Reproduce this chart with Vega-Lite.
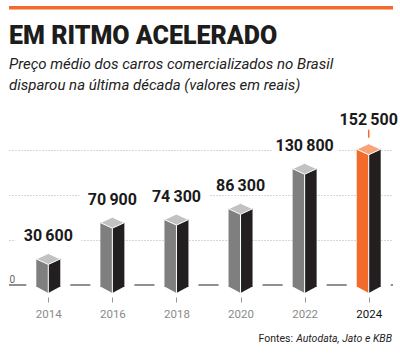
{
  "$schema": "https://vega.github.io/schema/vega-lite/v6.json",
  "background": "white",
  "padding": {"left": 8, "right": 8, "top": 6, "bottom": 0},
  "autosize": {"type": "pad"},
  "spacing": 14,
  "config": {"view": {"stroke": null}, "font": "Roboto"},
  "datasets": {
    "precos": [
      {"ano": "2014", "valor": 30600, "rotulo": "30\u2009600", "destaque": "não"},
      {"ano": "2016", "valor": 70900, "rotulo": "70\u2009900", "destaque": "não"},
      {"ano": "2018", "valor": 74300, "rotulo": "74\u2009300", "destaque": "não"},
      {"ano": "2020", "valor": 86300, "rotulo": "86\u2009300", "destaque": "não"},
      {"ano": "2022", "valor": 130800, "rotulo": "130\u2009800", "destaque": "não"},
      {"ano": "2024", "valor": 152500, "rotulo": "152\u2009500", "destaque": "sim"}
    ],
    "faixa": [{"inicio": 0, "fim": 1}],
    "fonte": [{"prefixo": "Fontes:", "nomes": "Autodata, Jato e KBB"}]
  },
  "vconcat": [
    {
      "width": 384,
      "height": 3.5,
      "data": {"name": "faixa"},
      "mark": {"type": "rect", "color": "#F26B2A"},
      "encoding": {
        "x": {"field": "inicio", "type": "quantitative", "axis": null, "scale": {"domain": [0, 1]}},
        "x2": {"field": "fim"},
        "y": {"field": "inicio", "type": "quantitative", "axis": null, "scale": {"domain": [0, 1]}},
        "y2": {"field": "fim"}
      }
    },
    {
      "width": 384,
      "height": 180,
      "data": {"name": "precos"},
      "title": {
        "text": "EM RITMO ACELERADO",
        "subtitle": ["Preço médio dos carros comercializados no Brasil", "disparou na última década (valores em reais)"],
        "anchor": "start",
        "frame": "group",
        "font": "Roboto",
        "fontSize": 25,
        "fontWeight": 900,
        "color": "#1d1d1b",
        "subtitleFont": "Roboto",
        "subtitleFontSize": 15,
        "subtitleFontStyle": "italic",
        "subtitleColor": "#222222",
        "subtitleLineHeight": 21,
        "subtitlePadding": 8,
        "offset": 12
      },
      "layer": [
        {
          "data": {"name": "faixa"},
          "mark": {"type": "rule", "color": "#222222", "strokeWidth": 1.2},
          "encoding": {
            "y": {
              "datum": 0,
              "type": "quantitative",
              "scale": {"domain": [0, 200000]},
              "axis": {
                "title": null,
                "values": [0, 50000, 100000, 150000],
                "grid": true,
                "gridDash": [1, 2],
                "gridColor": "#9a9a9a",
                "gridWidth": 0.8,
                "gridOpacity": {"condition": {"test": "datum.value === 0", "value": 0}, "value": 1},
                "domain": false,
                "ticks": false,
                "tickSize": 0,
                "labelExpr": "datum.value === 0 ? '0' : ''",
                "labelAlign": "left",
                "labelPadding": 0,
                "labelBaseline": "alphabetic",
                "labelOffset": -3,
                "labelFont": "Roboto",
                "labelFontSize": 10,
                "labelColor": "#666666"
              }
            }
          }
        },
        {
          "mark": {"type": "tick", "color": "white", "thickness": 3, "size": 44, "opacity": 1},
          "encoding": {
            "x": {
              "field": "ano",
              "type": "ordinal",
              "scale": {"type": "point", "padding": 0.496, "align": 0.618},
              "axis": {
                "title": null,
                "domain": false,
                "ticks": true,
                "tickColor": "#999999",
                "tickSize": 5,
                "tickWidth": 1,
                "offset": 12,
                "labelPadding": 6,
                "labelAngle": 0,
                "labelFont": "Roboto",
                "labelFontSize": 11.5,
                "labelColor": {"condition": {"test": "datum.label == '2024'", "value": "#111111"}, "value": "#8a8a8a"},
                "grid": false
              }
            },
            "y": {"datum": 0, "type": "quantitative"}
          }
        },
        {
          "mark": {"type": "bar", "width": 12, "xOffset": -6, "yOffset": 1, "y2Offset": 2},
          "encoding": {
            "x": {"field": "ano", "type": "ordinal"},
            "y": {"field": "valor", "type": "quantitative"},
            "y2": {"datum": 0},
            "color": {"condition": {"test": "datum.destaque == 'sim'", "value": "#F26B2A"}, "value": "#7f7f7f"}
          }
        },
        {
          "mark": {"type": "bar", "width": 12, "xOffset": 6, "yOffset": 1, "y2Offset": 2, "color": "#231F20"},
          "encoding": {
            "x": {"field": "ano", "type": "ordinal"},
            "y": {"field": "valor", "type": "quantitative"},
            "y2": {"datum": 0}
          }
        },
        {
          "mark": {"type": "point", "shape": "M-1,-0.05L0,-0.05L0,0.5Z", "size": 576, "filled": true, "opacity": 1, "strokeWidth": 0, "yOffset": 2},
          "encoding": {
            "x": {"field": "ano", "type": "ordinal"},
            "y": {"datum": 0, "type": "quantitative"},
            "color": {"condition": {"test": "datum.destaque == 'sim'", "value": "#F26B2A"}, "value": "#7f7f7f"}
          }
        },
        {
          "mark": {"type": "point", "shape": "M1,-0.05L0,-0.05L0,0.5Z", "size": 576, "filled": true, "opacity": 1, "strokeWidth": 0, "yOffset": 2, "color": "#231F20"},
          "encoding": {
            "x": {"field": "ano", "type": "ordinal"},
            "y": {"datum": 0, "type": "quantitative"}
          }
        },
        {
          "mark": {"type": "rule", "color": "white", "strokeWidth": 1, "yOffset": 7, "y2Offset": 8},
          "encoding": {
            "x": {"field": "ano", "type": "ordinal"},
            "y": {"field": "valor", "type": "quantitative"},
            "y2": {"datum": 0}
          }
        },
        {
          "mark": {"type": "point", "shape": "M0,0L-1,-0.46L0,-0.92L1,-0.46Z", "size": 576, "filled": true, "opacity": 1, "stroke": "white", "strokeWidth": 1, "yOffset": 7},
          "encoding": {
            "x": {"field": "ano", "type": "ordinal"},
            "y": {"field": "valor", "type": "quantitative"},
            "fill": {"condition": {"test": "datum.destaque == 'sim'", "value": "#F7A47A"}, "value": "#c2c2c2"}
          }
        },
        {
          "transform": [{"filter": "datum.destaque == 'não'"}],
          "mark": {"type": "point", "shape": "M-1,-0.26L1,-0.26L1,0.26L-1,0.26Z", "size": 4356, "filled": true, "opacity": 1, "color": "white", "strokeWidth": 0, "yOffset": -21.5},
          "encoding": {
            "x": {"field": "ano", "type": "ordinal"},
            "y": {"field": "valor", "type": "quantitative"}
          }
        },
        {
          "transform": [{"filter": "datum.destaque == 'não'"}],
          "mark": {"type": "text", "font": "Roboto", "fontWeight": "bold", "fontSize": 16, "color": "#1a1a1a", "baseline": "alphabetic", "align": "center", "dy": -16},
          "encoding": {
            "x": {"field": "ano", "type": "ordinal"},
            "y": {"field": "valor", "type": "quantitative"},
            "text": {"field": "rotulo"}
          }
        },
        {
          "transform": [{"filter": "datum.destaque == 'sim'"}],
          "mark": {"type": "text", "font": "Roboto", "fontWeight": "bold", "fontSize": 16, "color": "#1a1a1a", "baseline": "alphabetic", "align": "center", "dy": -23},
          "encoding": {
            "x": {"field": "ano", "type": "ordinal"},
            "y": {"field": "valor", "type": "quantitative"},
            "text": {"field": "rotulo"}
          }
        },
        {
          "transform": [{"filter": "datum.destaque == 'sim'"}],
          "mark": {"type": "rule", "color": "#F26B2A", "strokeWidth": 1.5, "yOffset": -18, "y2Offset": -10},
          "encoding": {
            "x": {"field": "ano", "type": "ordinal"},
            "y": {"field": "valor", "type": "quantitative"},
            "y2": {"field": "valor"}
          }
        }
      ]
    },
    {
      "width": 384,
      "height": 10,
      "data": {"name": "fonte"},
      "layer": [
        {
          "mark": {"type": "text", "font": "Roboto", "fontSize": 10.5, "fontStyle": "italic", "color": "#222222", "align": "right", "baseline": "middle", "dx": 191},
          "encoding": {"text": {"field": "nomes"}}
        },
        {
          "mark": {"type": "text", "font": "Roboto", "fontSize": 10.5, "color": "#222222", "align": "right", "baseline": "middle", "dx": 92},
          "encoding": {"text": {"field": "prefixo"}}
        }
      ]
    }
  ]
}
